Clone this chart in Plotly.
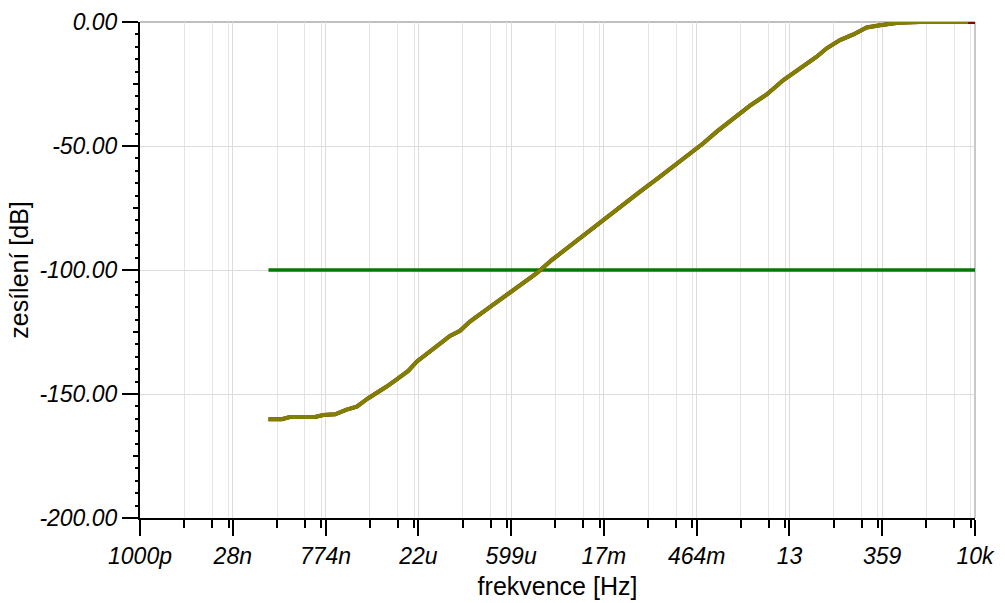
import numpy as np
import plotly.graph_objects as go

# Frequency response of the high-pass stage (frequency in Hz, gain in dB)
freq_hz = [1.0e-7, 1.61e-7, 2.16e-7, 5.31e-7, 7.14e-7, 1.09e-6, 1.65e-6, 2.37e-6,
           3.58e-6, 4.84e-6, 6.93e-6, 9.93e-6, 1.50e-5, 2.03e-5, 3.68e-5, 6.70e-5,
           9.59e-5, 1.37e-4, 2.50e-4, 4.53e-4, 8.24e-4, 1.50e-3, 2.57e-3, 5.57e-3,
           1.01e-2, 1.85e-2, 3.35e-2, 6.10e-2, 0.111, 0.201, 0.366, 0.589, 0.953,
           1.73, 3.14, 5.72, 10.4, 18.9, 34.3, 49.1, 79.1, 128, 206, 332, 475, 640,
           1390, 7800, 10000]
gain_db = [-160.2, -160.2, -159.3, -159.3, -158.5, -158.2, -156.3, -155.1,
           -151.7, -149.7, -147.0, -144.1, -140.7, -137.0, -131.6, -126.6,
           -124.5, -120.8, -115.9, -111.0, -106.0, -101.3, -96.0, -89.2,
           -83.9, -78.8, -73.4, -68.4, -63.4, -58.3, -53.2, -48.9, -44.2,
           -38.8, -33.7, -29.2, -23.4, -18.7, -14.0, -10.6, -7.3, -5.0, -2.2, -1.3, -0.8, -0.3,
           0.0, 0.0, 0.0]

# Reference level
ref_freq_hz = [1.0e-7, 1.0e4]
ref_gain_db = [-100.0, -100.0]

# Axis labels
x_tick_text = ["1000p", "28n", "774n", "22u", "599u", "17m", "464m", "13", "359", "10k"]
y_tick_vals = [0, -50, -100, -150, -200]
y_tick_text = ["0.00", "-50.00", "-100.00", "-150.00", "-200.00"]

LOG_MIN, LOG_MAX = -9.0, 4.0
step = (LOG_MAX - LOG_MIN) / (len(x_tick_text) - 1)
x_major = [10 ** (LOG_MIN + k * step) for k in range(len(x_tick_text))]
x_minor = [10 ** (LOG_MIN + (k + np.log10(m)) * step)
           for k in range(len(x_tick_text) - 1) for m in (3, 6, 9)]

font_family = "Liberation Sans, Arial, sans-serif"
tick_font = dict(family=font_family, size=23, color="black", style="italic")
title_font = dict(family=font_family, size=25, color="black")

fig = go.Figure()
fig.add_trace(go.Scatter(x=ref_freq_hz, y=ref_gain_db, mode="lines",
                         line=dict(color="#007a00", width=3.6), hoverinfo="skip"))
fig.add_trace(go.Scatter(x=freq_hz, y=gain_db, mode="lines",
                         line=dict(color="#8b0000", width=4), hoverinfo="skip"))
fig.add_trace(go.Scatter(x=freq_hz[:-1], y=gain_db[:-1], mode="lines",
                         line=dict(color="#808000", width=4), hoverinfo="skip"))

# Extra half-step y ticks (-25, -75, ...) drawn by an overlaying axis
fig.add_trace(go.Scatter(x=[1e-9], y=[-300], yaxis="y2", mode="markers",
                         marker=dict(opacity=0), showlegend=False, hoverinfo="skip"))

fig.update_layout(
    width=1005, height=603,
    margin=dict(l=140, r=30, t=22, b=85),
    paper_bgcolor="white", plot_bgcolor="white",
    showlegend=False,
    xaxis=dict(
        type="log", range=[LOG_MIN, LOG_MAX], automargin=False,
        tickmode="array", tickvals=x_major, ticktext=x_tick_text,
        ticks="outside", ticklen=16, tickwidth=2, tickcolor="black",
        tickfont=tick_font,
        showline=True, linecolor="black", linewidth=2,
        showgrid=True, gridcolor="#dcdcdc", gridwidth=1,
        minor=dict(tickmode="array", tickvals=x_minor, ticks="outside", ticklen=8,
                   tickwidth=2, tickcolor="black", showgrid=True,
                   gridcolor="#e4e4e4", gridwidth=1),
        zeroline=False,
        title=dict(text="frekvence [Hz]", font=title_font, standoff=10),
    ),
    yaxis=dict(
        range=[-200, 0], automargin=False,
        tickmode="array", tickvals=y_tick_vals, ticktext=y_tick_text,
        ticks="outside", ticklen=16, tickwidth=2, tickcolor="black",
        tickfont=tick_font,
        showline=True, linecolor="black", linewidth=2,
        showgrid=True, gridcolor="#dcdcdc", gridwidth=1,
        minor=dict(dtick=5, ticks="outside", ticklen=3, tickwidth=2,
                   tickcolor="black", showgrid=False),
        zeroline=False,
        title=dict(text="zesílení [dB]", font=title_font, standoff=4),
    ),
    yaxis2=dict(
        overlaying="y", side="left", range=[-200, 0], automargin=False,
        tickmode="array", tickvals=[-25, -75, -125, -175],
        ticks="outside", ticklen=6, tickwidth=2, tickcolor="black",
        showticklabels=False, showgrid=False, showline=False, zeroline=False,
    ),
    shapes=[
        dict(type="line", xref="paper", yref="paper", x0=0, x1=1, y0=1, y1=1,
             line=dict(color="#c0c0c0", width=2), layer="below"),
        dict(type="line", xref="paper", yref="paper", x0=1, x1=1, y0=0, y1=1,
             line=dict(color="#c8c8c8", width=2), layer="below"),
    ],
)

fig.write_html("out.html")
